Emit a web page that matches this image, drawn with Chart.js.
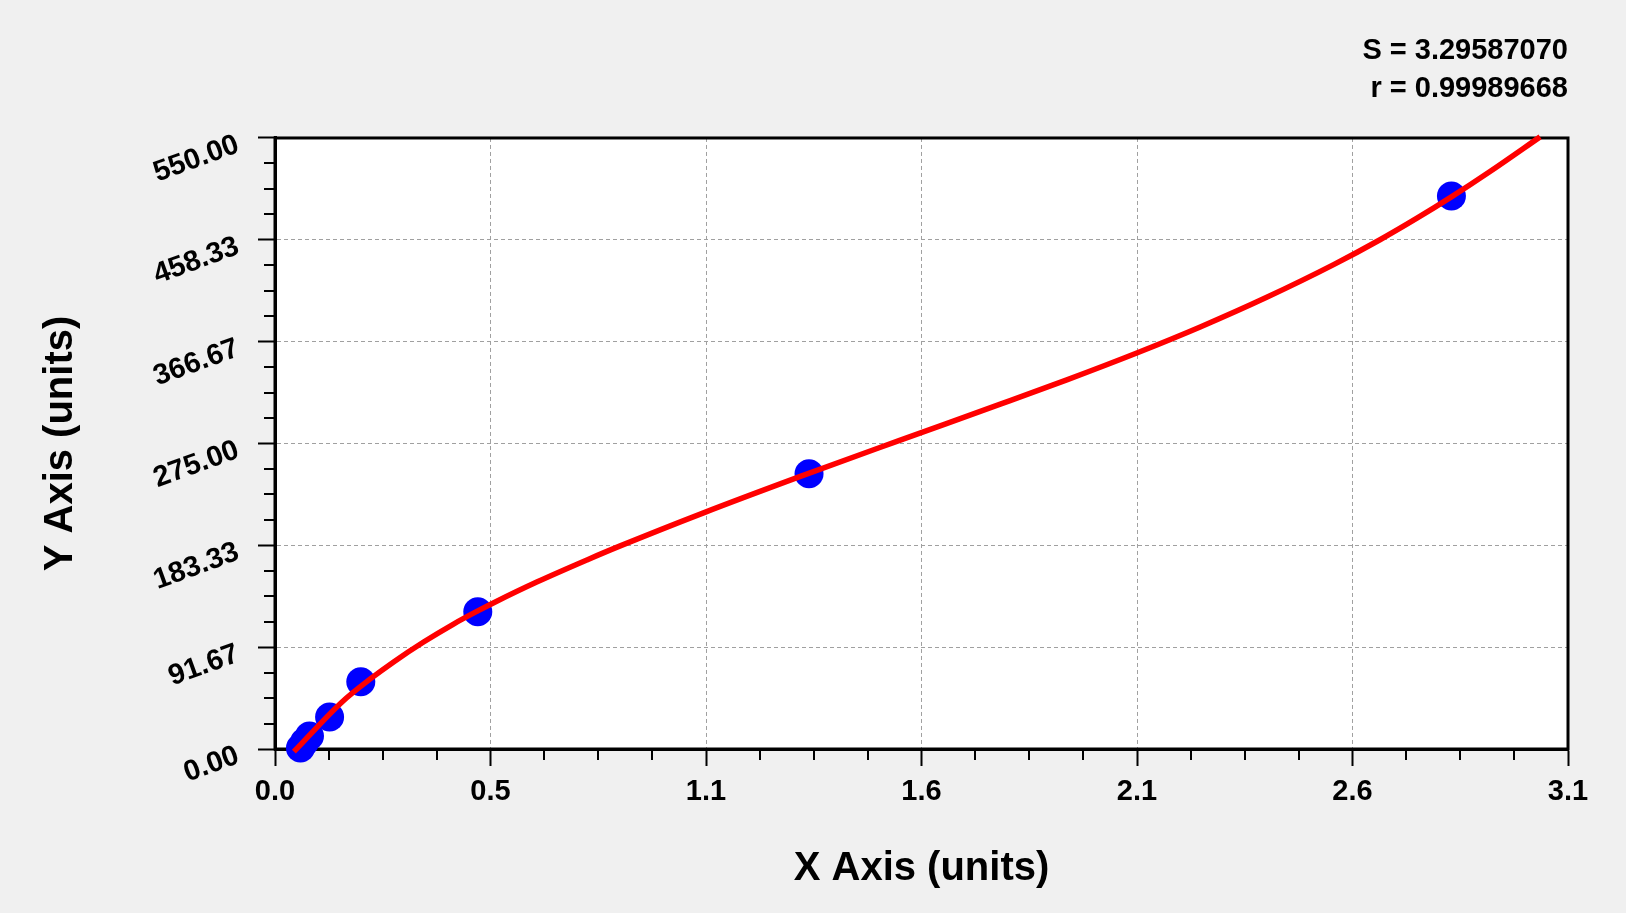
<!DOCTYPE html>
<html>
<head>
<meta charset="utf-8">
<script src="https://cdn.jsdelivr.net/npm/chart.js@4.4.0/dist/chart.umd.min.js"></script>
<style>
  html, body { margin: 0; padding: 0; background: #f0f0f0; }
  #wrap { width: 1626px; height: 913px; position: relative; }
</style>
</head>
<body>
<div id="wrap"><canvas id="myChart"></canvas></div>
<script>
'use strict';

// Axis ranges and tick labels
const xMax = 3.15;
const yMax = 550;
const xTickLabels = ['0.0', '0.5', '1.1', '1.6', '2.1', '2.6', '3.1'];
const yTickLabels = ['0.00', '91.67', '183.33', '275.00', '366.67', '458.33', '550.00'];

// Measured standards (blue dots)
const pointX = [0.062, 0.072, 0.084, 0.133, 0.209, 0.494, 1.301, 2.866];
const pointY = [0.9, 6.3, 11.7, 28.8, 60.6, 123.6, 247.8, 497.8];

// Fitted curve (red line)
const curveX = [0.046, 0.164, 0.233, 0.289, 0.362, 0.435, 0.494, 0.533, 0.639, 0.760, 0.841, 1.044,
  1.280, 1.520, 1.767, 1.929, 2.101, 2.254, 2.416, 2.579, 2.692, 2.782, 2.866, 2.960, 3.082];
const curveY = [-2.4, 42.6, 63.3, 78.4, 96.3, 112.5, 124.3, 131.7, 150.5, 170.2, 182.8, 212.6,
  245.4, 277.6, 310.4, 332.3, 356.7, 379.9, 406.6, 436.0, 458.4, 477.8, 497.0, 519.8, 551.0];

// Fit statistics
const fitStats = ['S = 3.29587070', 'r = 0.99989668'];

const fontFamily = '"Liberation Sans", Arial, sans-serif';
Chart.defaults.font.family = fontFamily;
Chart.defaults.color = '#000';

const ctx = document.querySelector('#myChart').getContext('2d');

// White plot area, frame and minor ticks
const plotFrame = {
  id: 'plotFrame',
  beforeDraw(chart) {
    const { ctx, chartArea: a } = chart;
    ctx.save();
    ctx.fillStyle = '#fff';
    ctx.fillRect(a.left, a.top, a.right - a.left, a.bottom - a.top);
    ctx.restore();
  },
  beforeDatasetsDraw(chart) {
    const { ctx, chartArea: a, scales: { x, y } } = chart;
    ctx.save();
    ctx.strokeStyle = '#000';
    ctx.lineWidth = 2;
    ctx.beginPath();
    for (let i = 1; i < 24; i++) {
      if (i % 4 === 0) continue;
      const px = Math.round(x.getPixelForValue(i * xMax / 24));
      ctx.moveTo(px, a.bottom);
      ctx.lineTo(px, a.bottom + 11);
      const py = Math.round(y.getPixelForValue(i * yMax / 24));
      ctx.moveTo(a.left, py);
      ctx.lineTo(a.left - 11, py);
    }
    ctx.stroke();
    ctx.lineWidth = 3;
    ctx.strokeRect(a.left, a.top, a.right - a.left, a.bottom - a.top);
    ctx.restore();
  }
};

const tickFont = { family: fontFamily, size: 29, weight: 'bold' };
const titleFont = { family: fontFamily, size: 40, weight: 'bold' };

const myChart = new Chart(ctx, {
  type: 'scatter',
  data: {
    datasets: [{
      label: 'fit',
      data: curveX.map((x, i) => ({ x, y: curveY[i] })),
      showLine: true,
      borderColor: '#ff0000',
      borderWidth: 5.5,
      pointRadius: 0,
      cubicInterpolationMode: 'monotone',
      clip: false,
      order: 0
    }, {
      label: 'standards',
      data: pointX.map((x, i) => ({ x, y: pointY[i] })),
      backgroundColor: '#0000ff',
      borderWidth: 0,
      pointRadius: 14.5,
      clip: false,
      order: 1
    }]
  },
  options: {
    responsive: true,
    maintainAspectRatio: false,
    animation: false,
    layout: { padding: { left: 0, right: 58, top: 0, bottom: 0 } },
    scales: {
      x: {
        type: 'linear',
        min: 0,
        max: xMax,
        afterFit: scale => { scale.height = 164; },
        afterBuildTicks: scale => {
          scale.ticks = xTickLabels.map((_, i) => ({ value: i * xMax / 6 }));
        },
        ticks: {
          callback: (value, index) => xTickLabels[index],
          font: tickFont,
          color: '#000',
          padding: 9,
          maxRotation: 0,
          autoSkip: false
        },
        grid: { color: '#a0a0a0', lineWidth: 1, tickColor: '#000', tickLength: 17, tickWidth: 2 },
        border: { color: '#000', width: 3, dash: [4, 3] },
        title: { display: true, text: 'X Axis (units)', color: '#000', font: titleFont, padding: { top: 0, bottom: 20 } }
      },
      y: {
        type: 'linear',
        min: 0,
        max: yMax,
        afterFit: scale => { scale.width = 275; },
        afterBuildTicks: scale => {
          scale.ticks = yTickLabels.map((_, i) => ({ value: i * yMax / 6 }));
        },
        ticks: {
          callback: (value, index) => yTickLabels[index],
          font: tickFont,
          color: '#000',
          padding: 20,
          minRotation: 20,
          maxRotation: 20,
          labelOffset: 6,
          autoSkip: false
        },
        grid: { color: '#a0a0a0', lineWidth: 1, tickColor: '#000', tickLength: 17, tickWidth: 2 },
        border: { color: '#000', width: 3, dash: [4, 3] },
        title: { display: true, text: 'Y Axis (units)', color: '#000', font: titleFont, padding: { top: 37, bottom: 0 } }
      }
    },
    plugins: {
      legend: { display: false },
      tooltip: { enabled: false },
      title: {
        display: true,
        text: fitStats,
        align: 'end',
        color: '#000',
        font: { family: fontFamily, size: 29, weight: 'bold', lineHeight: 1.31 },
        padding: { top: 32, bottom: 30 }
      }
    }
  },
  plugins: [plotFrame]
});
</script>
</body>
</html>
